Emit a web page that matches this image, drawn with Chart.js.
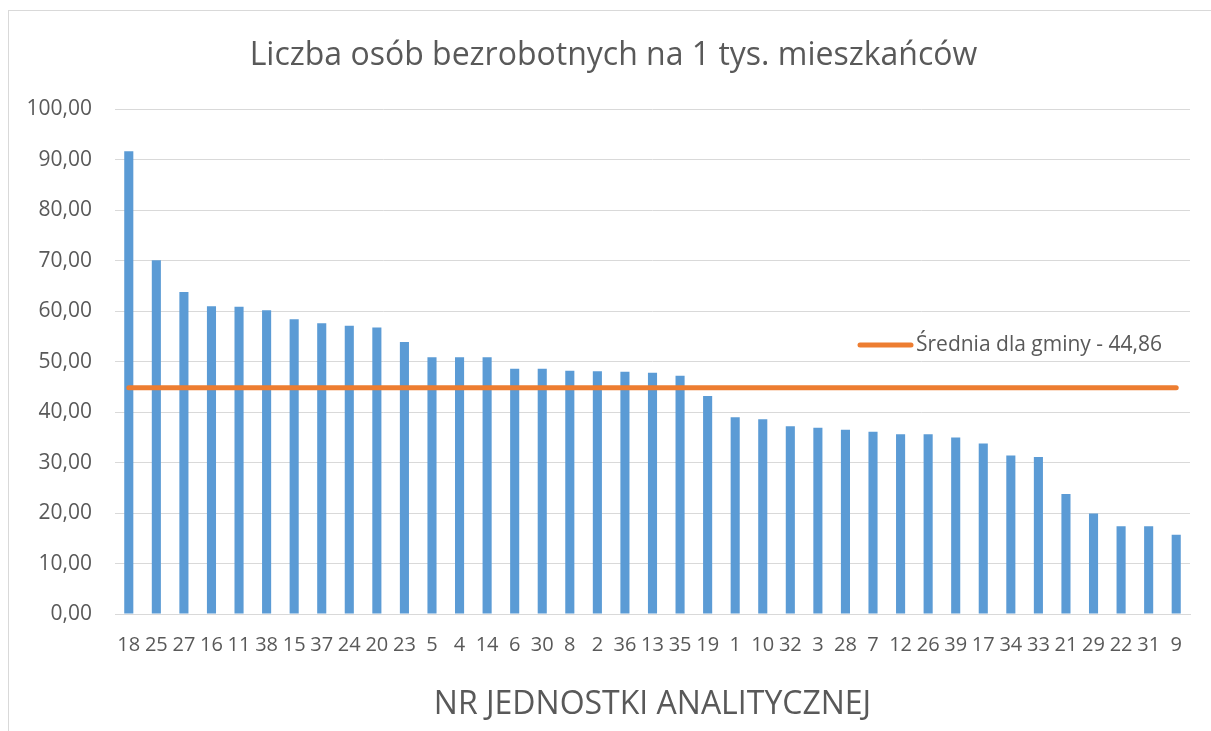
<!DOCTYPE html>
<html>
<head>
<meta charset="utf-8">
<script src="https://cdn.jsdelivr.net/npm/chart.js@4/dist/chart.umd.min.js"></script>
<style>
  html, body { margin: 0; padding: 0; background: #ffffff; overflow: hidden; }
  #frame { position: absolute; left: 8px; top: 10px; width: 1300px; height: 800px; border: 1px solid #d9d9d9; box-sizing: border-box; }
  #wrap { position: absolute; left: 0; top: 0; width: 1211px; height: 731px; }
</style>
</head>
<body>
<div id="frame"></div>
<div id="wrap"><canvas id="c" width="1211" height="731"></canvas></div>
<script>
const chartTitle = 'Liczba osób bezrobotnych na 1 tys. mieszkańców';
const axisTitle = 'NR JEDNOSTKI ANALITYCZNEJ';
const avgLabel = 'Średnia dla gminy - 44,86';
const seriesLabel = 'Liczba osób bezrobotnych na 1 tys. mieszkańców';

const categories = ['18','25','27','16','11','38','15','37','24','20','23','5','4','14','6','30','8','2','36','13','35','19','1','10','32','3','28','7','12','26','39','17','34','33','21','29','22','31','9'];
const values = [91.7, 70.1, 63.8, 61.0, 60.9, 60.2, 58.4, 57.6, 57.1, 56.8, 53.9, 50.9, 50.9, 50.9, 48.6, 48.6, 48.2, 48.1, 48.0, 47.8, 47.2, 43.2, 39.0, 38.6, 37.2, 36.9, 36.5, 36.1, 35.6, 35.6, 35.0, 33.8, 31.4, 31.1, 23.8, 19.9, 17.4, 17.4, 15.7];
const avgLine = [44.86, 44.86, 44.86, 44.86, 44.86, 44.86, 44.86, 44.86, 44.86, 44.86, 44.86, 44.86, 44.86, 44.86, 44.86, 44.86, 44.86, 44.86, 44.86, 44.86, 44.86, 44.86, 44.86, 44.86, 44.86, 44.86, 44.86, 44.86, 44.86, 44.86, 44.86, 44.86, 44.86, 44.86, 44.86, 44.86, 44.86, 44.86, 44.86];
const yTicks = [0, 10, 20, 30, 40, 50, 60, 70, 80, 90, 100];

const FONT = "'Open Sans', 'DejaVu Sans', sans-serif";
const TEXT = '#595959';
const BLUE = '#5B9BD5';
const ORANGE = '#ED7D31';
const GRID = '#d9d9d9';

const legendPlugin = {
  id: 'insideLegend',
  afterDatasetsDraw(chart) {
    const ctx = chart.ctx;
    const ds = chart.data.datasets[1];
    const y = chart.scales.y.getPixelForValue(53.3);
    ctx.save();
    ctx.strokeStyle = ds.borderColor;
    ctx.lineWidth = 5;
    ctx.lineCap = 'round';
    ctx.beginPath();
    ctx.moveTo(860, y);
    ctx.lineTo(911, y);
    ctx.stroke();
    ctx.fillStyle = TEXT;
    ctx.font = "21px " + FONT;
    ctx.textBaseline = 'middle';
    ctx.textAlign = 'left';
    ctx.fillText(ds.label, 916, y);
    ctx.restore();
  }
};

new Chart(document.getElementById('c'), {
  data: {
    labels: categories,
    datasets: [
      {
        type: 'bar',
        label: seriesLabel,
        data: values,
        backgroundColor: BLUE,
        borderWidth: 0,
        barPercentage: 0.33,
        categoryPercentage: 1.0,
        order: 2
      },
      {
        type: 'line',
        label: avgLabel,
        data: avgLine,
        borderColor: ORANGE,
        backgroundColor: ORANGE,
        borderWidth: 5,
        borderCapStyle: 'round',
        pointRadius: 0,
        pointHoverRadius: 0,
        tension: 0,
        fill: false,
        order: 1
      }
    ]
  },
  options: {
    responsive: false,
    animation: false,
    devicePixelRatio: 1,
    layout: { padding: { left: 16, right: 0, top: 0, bottom: 0 } },
    plugins: {
      legend: { display: false },
      tooltip: { enabled: false },
      title: {
        display: true,
        text: chartTitle,
        color: TEXT,
        font: { family: FONT, size: 32, weight: 'normal', lineHeight: 1.2 },
        padding: { top: 37, bottom: 34 }
      }
    },
    scales: {
      x: {
        grid: { display: false, drawTicks: false },
        border: { display: true, color: GRID, width: 1 },
        ticks: {
          color: TEXT,
          font: { family: FONT, size: 20 },
          autoSkip: false,
          maxRotation: 0,
          minRotation: 0,
          padding: 19
        },
        title: {
          display: true,
          text: axisTitle,
          color: TEXT,
          font: { family: FONT, size: 32, weight: 'normal', lineHeight: 1.2 },
          padding: { top: 0, bottom: 7 }
        },
        afterFit(scale) { scale.height = 117; }
      },
      y: {
        min: 0,
        max: 100,
        grid: { color: GRID, lineWidth: 1, drawTicks: false },
        border: { display: false },
        afterBuildTicks(scale) { scale.ticks = yTicks.map(v => ({ value: v })); },
        ticks: {
          color: TEXT,
          font: { family: FONT, size: 21 },
          padding: 23,
          callback: (v) => Number(v).toFixed(2).replace('.', ',')
        },
        afterFit(scale) { scale.width = 99; }
      },
      yRightSpace: {
        type: 'linear',
        position: 'right',
        display: true,
        grid: { display: false, drawTicks: false },
        border: { display: false },
        ticks: { display: false },
        afterFit(scale) { scale.width = 21; }
      }
    }
  },
  plugins: [legendPlugin]
});
</script>
</body>
</html>
